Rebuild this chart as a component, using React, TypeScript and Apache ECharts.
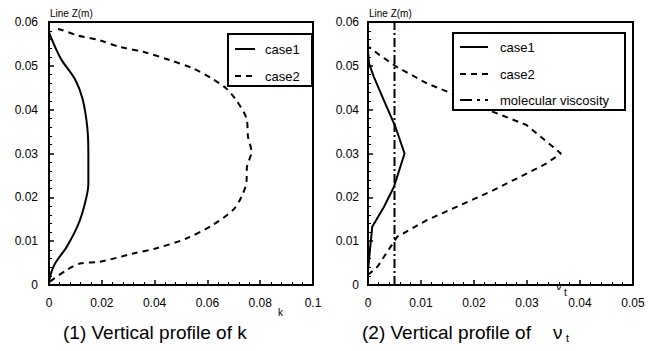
import React, { useEffect, useRef } from "react";
import * as echarts from "echarts";

// Left panel: vertical profile of k
const kCase1Z = [0, 0.0019, 0.0049, 0.0087, 0.0137, 0.0186, 0.023, 0.030, 0.036, 0.0425, 0.047, 0.0513, 0.0543, 0.057, 0.0577];
const kCase1V = [0, 0.0004, 0.0023, 0.0067, 0.011, 0.0136, 0.0149, 0.0149, 0.0145, 0.0127, 0.0098, 0.0048, 0.0023, 0.0004, 0];
const kCase2Z = [0.0008, 0.0034, 0.0049, 0.0053, 0.0072, 0.0084, 0.0106, 0.0137, 0.0171, 0.0201, 0.0235, 0.027, 0.0304, 0.0338, 0.038, 0.0421, 0.0448, 0.047, 0.0494, 0.0513, 0.0532, 0.0543, 0.0558, 0.057, 0.0583, 0.0585];
const kCase2V = [0.0004, 0.0067, 0.0117, 0.0193, 0.032, 0.0407, 0.052, 0.062, 0.0697, 0.0729, 0.0748, 0.075, 0.0767, 0.0754, 0.0748, 0.071, 0.0672, 0.062, 0.0546, 0.0458, 0.0357, 0.0269, 0.0193, 0.0105, 0.0042, 0.0016];

// Right panel: vertical profile of nu_t
const nCase1Z = [0.0034, 0.0133, 0.0178, 0.0224, 0.030, 0.036, 0.0421, 0.0475, 0.0505, 0.0535];
const nCase1V = [0, 0.0008, 0.003, 0.0049, 0.0069, 0.0052, 0.003, 0.0011, 0.0002, 0];
const nCase2Z = [0.0023, 0.0042, 0.011, 0.0148, 0.0182, 0.0216, 0.0254, 0.0277, 0.030, 0.0334, 0.0365, 0.0395, 0.0429, 0.046, 0.0497, 0.0528, 0.0543];
const nCase2V = [0, 0.0018, 0.0055, 0.0111, 0.0174, 0.0236, 0.0299, 0.0336, 0.0364, 0.033, 0.0299, 0.0236, 0.0174, 0.0111, 0.0055, 0.0018, 0.0002];
const molViscZ = [0, 0.06];
const molViscV = [0.005, 0.005];

const legend1 = ["case1", "case2"];
const legend2 = ["case1", "case2", "molecular viscosity"];

const FONT = "'Liberation Sans', Arial, sans-serif";

const pairs = (v: number[], z: number[]) => v.map((x, i) => [x, z[i]]);

export default function App() {
  const ref = useRef<HTMLDivElement>(null);
  useEffect(() => {
    if (!ref.current) return;
    const chart = echarts.init(ref.current, null, { renderer: "svg" });
    const axisCommon = {
      type: "value" as const,
      axisLine: { show: true, onZero: false, lineStyle: { color: "#000", width: 2 } },
      axisTick: { show: true, inside: true, length: 5, lineStyle: { color: "#000", width: 1.5 } },
      minorTick: { show: true, splitNumber: 5, length: 3, lineStyle: { color: "#000", width: 1 } },
      splitLine: { show: false },
      axisLabel: { color: "#000", fontSize: 12, fontFamily: FONT },
    };
    const lineW = 2;
    chart.setOption({
      animation: false,
      backgroundColor: "#fff",
      grid: [
        { left: 49, top: 22, width: 264, height: 263, show: true, borderColor: "#000", borderWidth: 2 },
        { left: 368, top: 22, width: 265, height: 263, show: true, borderColor: "#000", borderWidth: 2 },
      ],
      xAxis: [
        { ...axisCommon, gridIndex: 0, min: 0, max: 0.1, interval: 0.02, axisLabel: { ...axisCommon.axisLabel, margin: 12 } },
        { ...axisCommon, gridIndex: 1, min: 0, max: 0.05, interval: 0.01, axisLabel: { ...axisCommon.axisLabel, margin: 12 } },
      ],
      yAxis: [
        { ...axisCommon, gridIndex: 0, min: 0, max: 0.06, interval: 0.01, axisLabel: { ...axisCommon.axisLabel, margin: 11 } },
        { ...axisCommon, gridIndex: 1, min: 0, max: 0.06, interval: 0.01, axisLabel: { ...axisCommon.axisLabel, margin: 9 } },
      ],
      series: [
        { type: "line", xAxisIndex: 0, yAxisIndex: 0, data: pairs(kCase1V, kCase1Z), showSymbol: false, smooth: 0.3, lineStyle: { color: "#000", width: lineW } },
        { type: "line", xAxisIndex: 0, yAxisIndex: 0, data: pairs(kCase2V, kCase2Z), showSymbol: false, smooth: 0.3, lineStyle: { color: "#000", width: lineW, type: [6, 5] } },
        { type: "line", xAxisIndex: 1, yAxisIndex: 1, data: pairs(nCase1V, nCase1Z), showSymbol: false, lineStyle: { color: "#000", width: lineW } },
        { type: "line", xAxisIndex: 1, yAxisIndex: 1, data: pairs(nCase2V, nCase2Z), showSymbol: false, lineStyle: { color: "#000", width: lineW, type: [6, 5] } },
        { type: "line", xAxisIndex: 1, yAxisIndex: 1, data: pairs(molViscV, molViscZ), showSymbol: false, lineStyle: { color: "#000", width: lineW, type: [9, 3, 2, 3] } },
      ],
      graphic: [
        // Axis captions
        { type: "text", left: 50, top: 8, style: { text: "Line Z(m)", font: `10px ${FONT}`, fill: "#000" } },
        { type: "text", left: 369, top: 8, style: { text: "Line Z(m)", font: `10px ${FONT}`, fill: "#000" } },
        { type: "text", left: 278, top: 307, style: { text: "k", font: `10px ${FONT}`, fill: "#000" } },
        // Legend 1
        { type: "rect", shape: { x: 228, y: 34, width: 84, height: 52 }, style: { fill: "#fff", stroke: "#000", lineWidth: 2 }, z: 10 },
        { type: "line", shape: { x1: 235, y1: 49, x2: 255, y2: 49 }, style: { stroke: "#000", lineWidth: 2 }, z: 11 },
        { type: "line", shape: { x1: 235, y1: 76, x2: 255, y2: 76 }, style: { stroke: "#000", lineWidth: 2, lineDash: [6, 5] }, z: 11 },
        { type: "text", x: 265, y: 49, style: { text: legend1[0], font: `13px ${FONT}`, fill: "#000", verticalAlign: "middle" }, z: 11 },
        { type: "text", x: 265, y: 76, style: { text: legend1[1], font: `13px ${FONT}`, fill: "#000", verticalAlign: "middle" }, z: 11 },
        // Legend 2
        { type: "rect", shape: { x: 453, y: 33, width: 172, height: 77 }, style: { fill: "#fff", stroke: "#000", lineWidth: 2 }, z: 10 },
        { type: "line", shape: { x1: 460, y1: 47, x2: 488, y2: 47 }, style: { stroke: "#000", lineWidth: 2 }, z: 11 },
        { type: "line", shape: { x1: 460, y1: 74, x2: 488, y2: 74 }, style: { stroke: "#000", lineWidth: 2, lineDash: [6, 5] }, z: 11 },
        { type: "line", shape: { x1: 460, y1: 100, x2: 488, y2: 100 }, style: { stroke: "#000", lineWidth: 2, lineDash: [12, 5, 3, 5] }, z: 11 },
        { type: "text", x: 500, y: 47, style: { text: legend2[0], font: `13px ${FONT}`, fill: "#000", verticalAlign: "middle" }, z: 11 },
        { type: "text", x: 500, y: 74, style: { text: legend2[1], font: `13px ${FONT}`, fill: "#000", verticalAlign: "middle" }, z: 11 },
        { type: "text", x: 500, y: 100, style: { text: legend2[2], font: `13px ${FONT}`, fill: "#000", verticalAlign: "middle" }, z: 11 },
        // Titles
        { type: "text", x: 63, y: 332, style: { text: "(1) Vertical profile of k", font: `19px ${FONT}`, fill: "#000", verticalAlign: "middle" } },
        { type: "text", x: 362, y: 332, style: { text: "(2) Vertical profile of", font: `19px ${FONT}`, fill: "#000", verticalAlign: "middle" } },
        { type: "text", x: 553, y: 332, style: { text: "ν", font: `19px ${FONT}`, fill: "#000", verticalAlign: "middle" } },
        { type: "text", x: 566, y: 338, style: { text: "t", font: `11px ${FONT}`, fill: "#000", verticalAlign: "middle" } },
        { type: "text", x: 556, y: 286, style: { text: "ν", font: `11px ${FONT}`, fill: "#000", verticalAlign: "middle" } },
        { type: "text", x: 564, y: 292, style: { text: "t", font: `10px ${FONT}`, fill: "#000", verticalAlign: "middle" } },
      ],
    });
    return () => chart.dispose();
  }, []);
  return <div ref={ref} style={{ width: 657, height: 351, margin: -8 }} />;
}
